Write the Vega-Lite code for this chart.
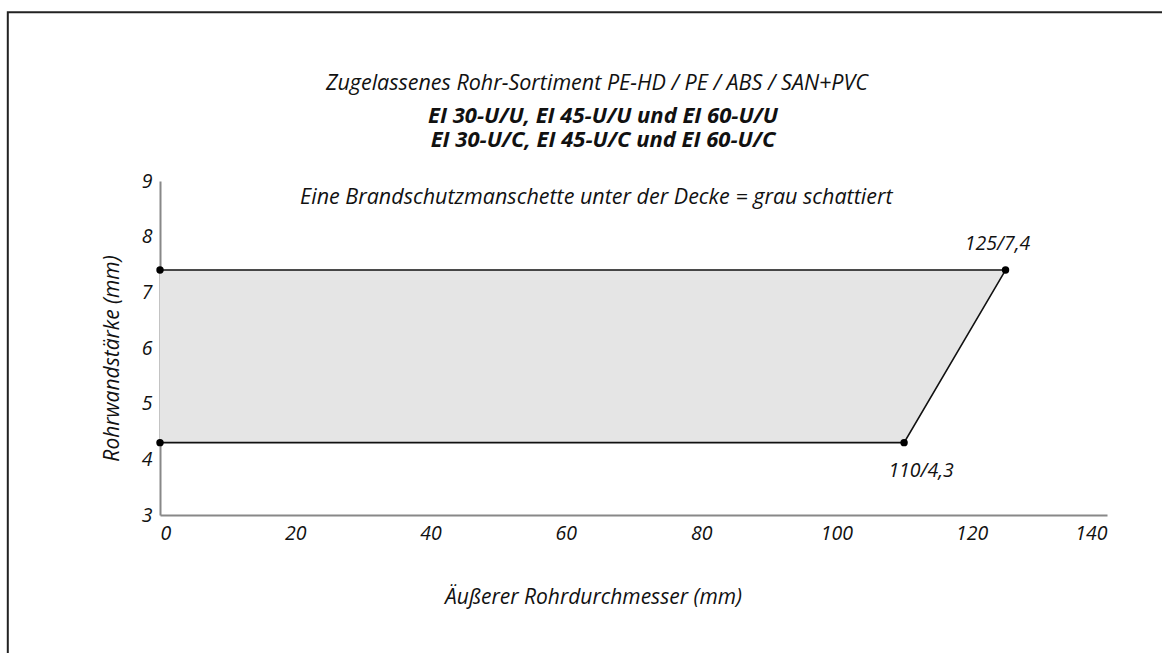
{
  "$schema": "https://vega.github.io/schema/vega-lite/v6.json",
  "autosize": {"type": "none"},
  "width": 947,
  "height": 334,
  "padding": {"left": 160, "top": 181, "right": 55, "bottom": 138},
  "background": "white",
  "config": {
    "font": "Open Sans",
    "view": {"stroke": null},
    "axis": {"labelFont": "Open Sans", "titleFont": "Open Sans"},
    "text": {"font": "Open Sans"}
  },
  "datasets": {
    "pts": [
      {"d": 0, "s": 7.4, "o": 1, "label": ""},
      {"d": 125, "s": 7.4, "o": 2, "label": "125/7,4"},
      {"d": 110, "s": 4.3, "o": 3, "label": "110/4,3"},
      {"d": 0, "s": 4.3, "o": 4, "label": ""}
    ]
  },
  "layer": [
    {
      "data": {"values": [{}]},
      "mark": {"type": "rect", "fill": null, "stroke": "#222", "strokeWidth": 2},
      "encoding": {
        "x": {"datum": -22.5, "type": "quantitative", "scale": {"domain": [0, 140], "nice": false, "zero": false}},
        "x2": {"datum": 300},
        "y": {"datum": 12.03, "type": "quantitative", "scale": {"domain": [3, 9], "nice": false, "zero": false}},
        "y2": {"datum": -20}
      }
    },
    {
      "data": {"name": "pts"},
      "transform": [{"filter": "datum.d > 0"}],
      "mark": {"type": "area", "orient": "horizontal", "fill": "#e5e5e5"},
      "encoding": {
        "y": {"field": "s", "type": "quantitative", "scale": {"domain": [3, 9], "nice": false, "zero": false}},
        "x": {"field": "d", "type": "quantitative", "scale": {"domain": [0, 140], "nice": false, "zero": false}},
        "x2": {"datum": 0}
      }
    },
    {
      "data": {"name": "pts"},
      "mark": {"type": "line", "color": "#111", "strokeWidth": 1.6},
      "encoding": {
        "x": {"field": "d", "type": "quantitative",
          "scale": {"domain": [0, 140], "nice": false, "zero": false},
          "axis": {
            "values": [0, 20, 40, 60, 80, 100, 120, 140],
            "format": "d",
            "ticks": false, "grid": false,
            "domainColor": "#888", "domainWidth": 2,
            "labelFontSize": 19.5, "labelFontStyle": "italic", "labelColor": "#111",
            "labelPadding": 9,
            "title": "Äußerer Rohrdurchmesser (mm)",
            "titleFontSize": 21, "titleFontStyle": "italic", "titleFontWeight": "normal",
            "titleColor": "#111", "titlePadding": 44, "titleX": 433
          }
        },
        "y": {"field": "s", "type": "quantitative",
          "scale": {"domain": [3, 9], "nice": false, "zero": false},
          "axis": {
            "values": [3, 4, 5, 6, 7, 8, 9],
            "format": "d",
            "ticks": false, "grid": false,
            "domainColor": "#888", "domainWidth": 2,
            "labelFontSize": 19.5, "labelFontStyle": "italic", "labelColor": "#111",
            "labelPadding": 8,
            "title": "Rohrwandstärke (mm)",
            "titleFontSize": 21, "titleFontStyle": "italic", "titleFontWeight": "normal",
            "titleColor": "#111", "titleX": -38, "titleY": 177
          }
        },
        "order": {"field": "o", "type": "quantitative"}
      }
    },
    {
      "data": {"name": "pts"},
      "mark": {"type": "point", "filled": true, "color": "#000", "size": 55, "opacity": 1},
      "encoding": {
        "x": {"field": "d", "type": "quantitative"},
        "y": {"field": "s", "type": "quantitative"}
      }
    },
    {
      "data": {"name": "pts"},
      "transform": [{"filter": "datum.label == '125/7,4'"}],
      "mark": {"type": "text", "fontSize": 19.5, "fontStyle": "italic", "color": "#111", "dx": -8, "dy": -26},
      "encoding": {
        "x": {"field": "d", "type": "quantitative"},
        "y": {"field": "s", "type": "quantitative"},
        "text": {"field": "label"}
      }
    },
    {
      "data": {"name": "pts"},
      "transform": [{"filter": "datum.label == '110/4,3'"}],
      "mark": {"type": "text", "fontSize": 19.5, "fontStyle": "italic", "color": "#111", "dx": 17, "dy": 28},
      "encoding": {
        "x": {"field": "d", "type": "quantitative"},
        "y": {"field": "s", "type": "quantitative"},
        "text": {"field": "label"}
      }
    },
    {
      "data": {"values": [{"t": "Zugelassenes Rohr-Sortiment PE-HD / PE / ABS / SAN+PVC"}]},
      "mark": {"type": "text", "fontSize": 21.5, "fontStyle": "italic", "color": "#111"},
      "encoding": {
        "x": {"datum": 64.6, "type": "quantitative"},
        "y": {"datum": 10.742, "type": "quantitative"},
        "text": {"field": "t"}
      }
    },
    {
      "data": {"values": [{"t": "EI 30-U/U, EI 45-U/U und EI 60-U/U"}]},
      "mark": {"type": "text", "fontSize": 22, "fontStyle": "italic", "fontWeight": "bold", "color": "#111"},
      "encoding": {
        "x": {"datum": 65.5, "type": "quantitative"},
        "y": {"datum": 10.16, "type": "quantitative"},
        "text": {"field": "t"}
      }
    },
    {
      "data": {"values": [{"t": "EI 30-U/C, EI 45-U/C und EI 60-U/C"}]},
      "mark": {"type": "text", "fontSize": 22, "fontStyle": "italic", "fontWeight": "bold", "color": "#111"},
      "encoding": {
        "x": {"datum": 65.5, "type": "quantitative"},
        "y": {"datum": 9.73, "type": "quantitative"},
        "text": {"field": "t"}
      }
    },
    {
      "data": {"values": [{"t": "Eine Brandschutzmanschette unter der Decke = grau schattiert"}]},
      "mark": {"type": "text", "fontSize": 21.5, "fontStyle": "italic", "color": "#111"},
      "encoding": {
        "x": {"datum": 64.5, "type": "quantitative"},
        "y": {"datum": 8.69, "type": "quantitative"},
        "text": {"field": "t"}
      }
    }
  ]
}
